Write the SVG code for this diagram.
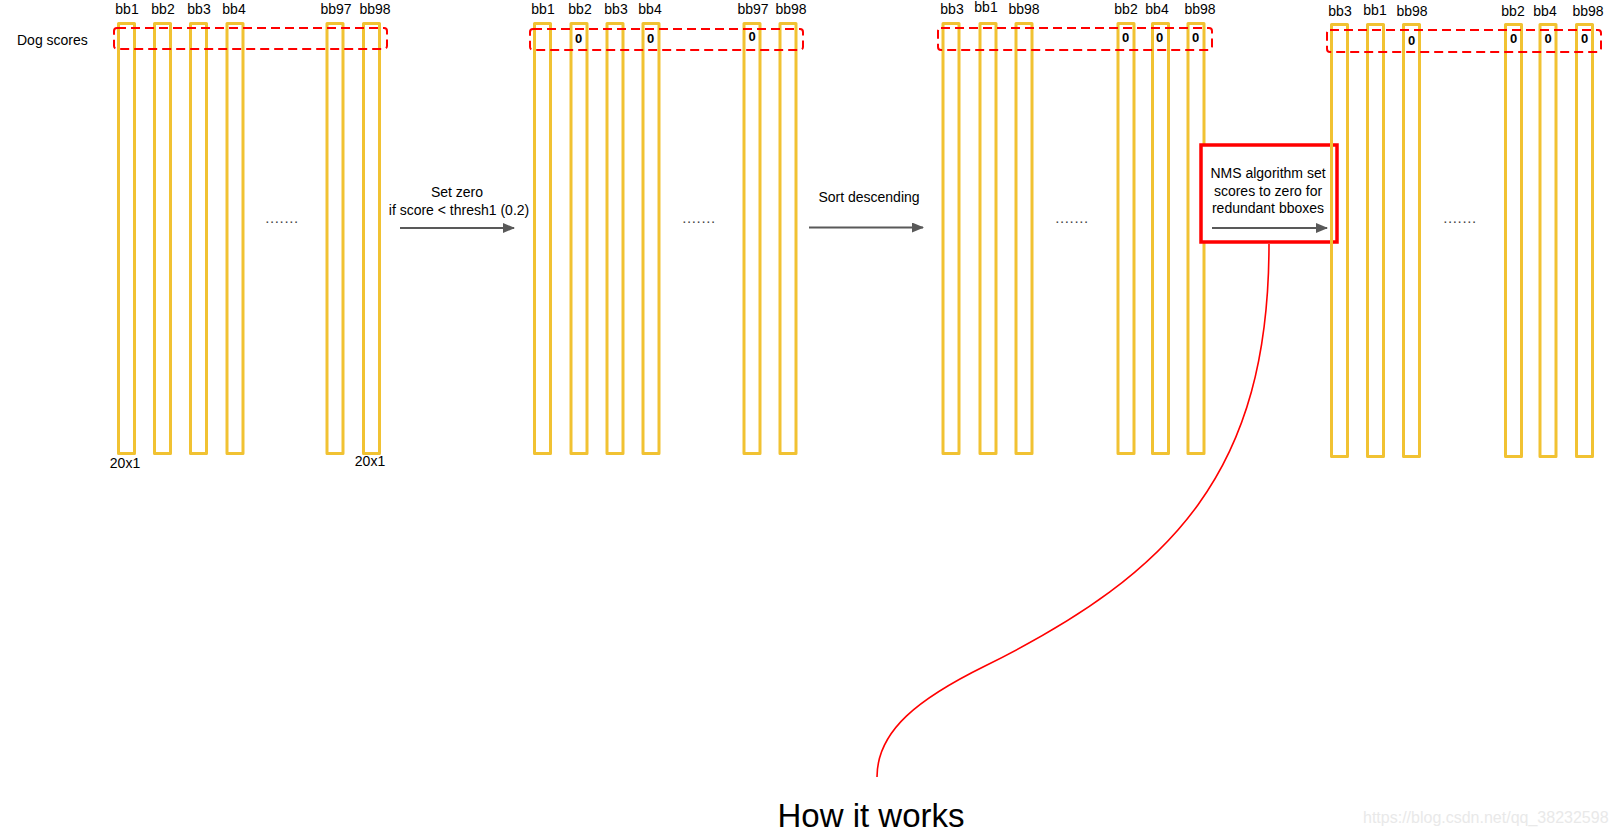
<svg xmlns="http://www.w3.org/2000/svg" width="1616" height="837" viewBox="0 0 1616 837">
<defs>
<style>
.bar{fill:none;stroke:#f1c232;stroke-width:3;stroke-linejoin:round}
.sel{fill:none;stroke:#ff0000;stroke-width:2;stroke-dasharray:9 5}
.lbl{font-family:"Liberation Sans",Arial,sans-serif;font-size:14px;fill:#000;text-anchor:middle}
.zero{font-family:"Liberation Sans",Arial,sans-serif;font-size:13px;font-weight:bold;fill:#000;text-anchor:middle}
.dots{font-family:"Liberation Sans",Arial,sans-serif;font-size:15px;fill:#444;text-anchor:middle;letter-spacing:0.6px}
.arr{stroke:#595959;stroke-width:2;fill:none;marker-end:url(#ah)}
</style>
<marker id="ah" viewBox="0 0 12 10" refX="11" refY="5" markerWidth="12" markerHeight="10" markerUnits="userSpaceOnUse" orient="auto">
<path d="M0,0 L12,5 L0,10 z" fill="#595959"/>
</marker>
</defs>
<rect width="1616" height="837" fill="#fff"/>

<g id="group1">
<rect class="bar" x="118.5" y="23.5" width="16" height="430"/>
<rect class="bar" x="154.5" y="23.5" width="16" height="430"/>
<rect class="bar" x="190.5" y="23.5" width="16" height="430"/>
<rect class="bar" x="227" y="23.5" width="16" height="430"/>
<rect class="bar" x="327" y="23.5" width="16" height="430"/>
<rect class="bar" x="363.5" y="23.5" width="16" height="430"/>
<rect class="sel" x="114" y="28" width="273" height="21" rx="3"/>
<text class="lbl" x="127" y="14">bb1</text>
<text class="lbl" x="163" y="14">bb2</text>
<text class="lbl" x="199" y="14">bb3</text>
<text class="lbl" x="234" y="14">bb4</text>
<text class="lbl" x="336" y="14">bb97</text>
<text class="lbl" x="375" y="14">bb98</text>
<text class="lbl" x="17" y="45" style="text-anchor:start">Dog scores</text>
<text class="lbl" x="125" y="468">20x1</text>
<text class="lbl" x="370" y="466">20x1</text>
<text class="dots" x="282" y="223">.......</text>
</g>

<g id="group2">
<rect class="bar" x="534.5" y="23.5" width="16" height="430"/>
<rect class="bar" x="571" y="23.5" width="16" height="430"/>
<rect class="bar" x="607" y="23.5" width="16" height="430"/>
<rect class="bar" x="643" y="23.5" width="16" height="430"/>
<rect class="bar" x="744" y="23.5" width="16" height="430"/>
<rect class="bar" x="780" y="23.5" width="16" height="430"/>
<rect class="sel" x="530" y="29" width="273" height="21" rx="3"/>
<text class="lbl" x="543" y="14">bb1</text>
<text class="lbl" x="580" y="14">bb2</text>
<text class="lbl" x="616" y="14">bb3</text>
<text class="lbl" x="650" y="14">bb4</text>
<text class="lbl" x="753" y="14">bb97</text>
<text class="lbl" x="791" y="14">bb98</text>
<text class="zero" x="578.5" y="43">0</text>
<text class="zero" x="650.5" y="43">0</text>
<text class="zero" x="752" y="41">0</text>
<text class="dots" x="699" y="223">.......</text>
</g>

<g id="group3">
<rect class="bar" x="943" y="23.5" width="16" height="430"/>
<rect class="bar" x="980" y="23.5" width="16" height="430"/>
<rect class="bar" x="1016" y="23.5" width="16" height="430"/>
<rect class="bar" x="1118" y="23.5" width="16" height="430"/>
<rect class="bar" x="1152.5" y="23.5" width="16" height="430"/>
<rect class="bar" x="1188" y="23.5" width="16" height="430"/>
<rect class="sel" x="938" y="28" width="274" height="22" rx="3"/>
<text class="lbl" x="952" y="14">bb3</text>
<text class="lbl" x="986" y="12">bb1</text>
<text class="lbl" x="1024" y="14">bb98</text>
<text class="lbl" x="1126" y="14">bb2</text>
<text class="lbl" x="1157" y="14">bb4</text>
<text class="lbl" x="1200" y="14">bb98</text>
<text class="zero" x="1125.5" y="42">0</text>
<text class="zero" x="1159.5" y="42">0</text>
<text class="zero" x="1195.5" y="42">0</text>
<text class="dots" x="1072" y="223">.......</text>
</g>

<g id="nms-box">
<rect x="1201" y="145" width="136" height="97" fill="#fff" stroke="#ff0000" stroke-width="3.5"/>
<text class="lbl" x="1268" y="178">NMS algorithm set</text>
<text class="lbl" x="1268" y="195.5">scores to zero for</text>
<text class="lbl" x="1268" y="213">redundant bboxes</text>
</g>

<g id="group4">
<rect class="bar" x="1331.5" y="24.5" width="16" height="432"/>
<rect class="bar" x="1367.5" y="24.5" width="16" height="432"/>
<rect class="bar" x="1403.5" y="24.5" width="16" height="432"/>
<rect class="bar" x="1505.5" y="24.5" width="16" height="432"/>
<rect class="bar" x="1540" y="24.5" width="16" height="432"/>
<rect class="bar" x="1576.5" y="24.5" width="16" height="432"/>
<rect class="sel" x="1327" y="30" width="274" height="22" rx="3"/>
<text class="lbl" x="1340" y="16">bb3</text>
<text class="lbl" x="1375" y="14.5">bb1</text>
<text class="lbl" x="1412" y="16">bb98</text>
<text class="lbl" x="1513" y="16">bb2</text>
<text class="lbl" x="1545" y="16">bb4</text>
<text class="lbl" x="1588" y="16">bb98</text>
<text class="zero" x="1411.5" y="45">0</text>
<text class="zero" x="1513.5" y="43">0</text>
<text class="zero" x="1548" y="43">0</text>
<text class="zero" x="1584.5" y="43">0</text>
<text class="dots" x="1460" y="223">.......</text>
</g>

<g id="step-labels">
<text class="lbl" x="457" y="197">Set zero</text>
<text class="lbl" x="459" y="215">if score &lt; thresh1 (0.2)</text>
<text class="lbl" x="869" y="202">Sort descending</text>
</g>

<g id="connectors">
<line class="arr" x1="400" y1="228" x2="514" y2="228"/>
<line class="arr" x1="809" y1="227.5" x2="923" y2="227.5"/>
<line class="arr" x1="1212" y1="228" x2="1327" y2="228"/>
<path d="M1269,244 C1269,470 1175,572 985,666 C920,698 877,730 877,777" fill="none" stroke="#ff0000" stroke-width="1.6"/>
</g>

<g id="caption">
<text x="871" y="827" style="font-family:'Liberation Sans',Arial,sans-serif;font-size:33px;fill:#000;text-anchor:middle">How it works</text>
<text x="1363" y="823" style="font-family:'Liberation Sans',Arial,sans-serif;font-size:16px;fill:#e9e9e9">https://blog.csdn.net/qq_38232598</text>
</g>
</svg>
